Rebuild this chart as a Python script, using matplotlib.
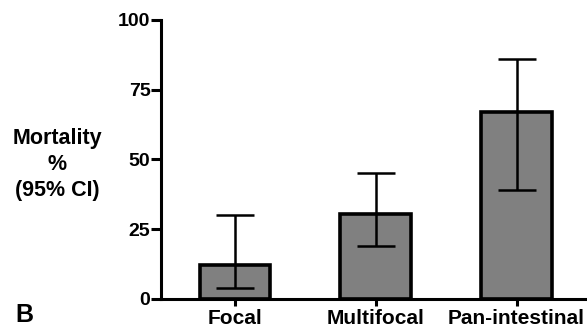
import numpy as np
import matplotlib.pyplot as plt

plt.rcParams['font.family'] = ['Liberation Sans', 'DejaVu Sans']
plt.rcParams['font.weight'] = 'bold'

categories = ['Focal', 'Multifocal', 'Pan-intestinal']
mortality = [12, 30.5, 67]
ci_low = [4, 19, 39]
ci_high = [30, 45, 86]

x = np.arange(len(categories))
yerr = np.array([np.subtract(mortality, ci_low), np.subtract(ci_high, mortality)])

fig = plt.figure(figsize=(5.87, 3.32), dpi=100)
ax = fig.add_axes([0.274, 0.1, 0.726, 0.84])

ax.bar(x, mortality, width=0.5, color='#808080', edgecolor='black', linewidth=2.6, zorder=2)
ax.errorbar(x, mortality, yerr=yerr, fmt='none', ecolor='black', elinewidth=1.8,
            capsize=14, capthick=1.8, zorder=3)

ax.set_xlim(-0.525, 2.5)
ax.set_ylim(0, 100)
ax.set_yticks([0, 25, 50, 75, 100])
ax.set_xticks(x)
ax.set_xticklabels(categories)

for s in ['top', 'right']:
    ax.spines[s].set_visible(False)
for s in ['left', 'bottom']:
    ax.spines[s].set_linewidth(2.2)
ax.spines['bottom'].set_zorder(4)

ax.tick_params(axis='y', length=7, width=2.2, labelsize=14, pad=0.5)
ax.tick_params(axis='x', length=5, width=2.2, labelsize=15, pad=2)
for lab in ax.get_xticklabels() + ax.get_yticklabels():
    lab.set_fontweight('bold')

fig.text(0.097, 0.505, 'Mortality\n%\n(95% CI)', ha='center', va='center',
         fontsize=15.5, fontweight='bold', linespacing=1.3)
fig.text(0.026, 0.015, 'B', ha='left', va='bottom', fontsize=18, fontweight='bold')

fig.savefig('out.png', dpi=100)
